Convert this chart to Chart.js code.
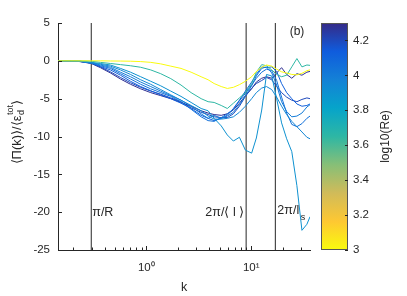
<!DOCTYPE html>
<html>
<head>
<meta charset="UTF-8">
<title>Energy flux spectra</title>
<script src="https://cdn.jsdelivr.net/npm/chart.js@4"></script>
<style>
html, body { margin: 0; padding: 0; background: #fff; }
</style>
</head>
<body>
<canvas id="myChart" width="407" height="296"></canvas>
<script>
// wavenumbers shared by all curves
var kGrid = [0.144, 0.187, 0.233, 0.298, 0.364, 0.454, 0.566, 0.706, 0.882, 1.10, 1.37, 1.71, 2.14, 2.67, 3.33, 3.88, 4.43, 5.18, 5.92, 6.76, 7.72, 8.81, 10.1, 11.2, 12.6, 14.0, 15.7, 17.5, 19.5, 21.8, 24.4, 27.3, 30.5, 34.0, 36.4];

// log10(Re) of each run, used for the line colour
var logRe = [3.0, 3.65, 3.9, 3.95, 4.0, 4.05, 4.12, 4.2, 4.28];

var piRe300 = [0, 0, 0, 0, 0, -0.02, -0.03, -0.05, -0.1, -0.2, -0.4, -0.7, -1.0, -1.5, -2.1, -2.5, -3.0, -3.4, -3.65, -3.5, -3.15, -2.7, -2.1, -1.4, -0.85, -0.55, -0.7, -1.1, -1.45, -1.6, -1.8, -1.85, -1.65, -1.3, -1.2];
var piRe365 = [0, 0, 0, -0.05, -0.2, -0.35, -0.5, -0.65, -0.85, -1.2, -1.7, -2.35, -3.2, -4.2, -5.0, -5.4, -5.5, -5.9, -6.3, -5.6, -4.9, -4.2, -3.0, -1.5, -0.5, -0.65, -1.2, -1.8, -2.1, -1.9, -0.8, 0.3, -0.8, -0.55, -0.6];
var piRe390 = [0, 0, -0.05, -0.2, -0.35, -0.55, -1.0, -1.5, -2.1, -2.7, -3.3, -4.0, -4.7, -5.5, -6.3, -6.6, -7.6, -8.6, -9.8, -10.6, -10.1, -11.8, -12.2, -10.2, -6.5, -1.8, -2.0, -5.0, -8.2, -10.3, -12.0, -16.5, -22.4, -21.6, -20.6];
var piRe395 = [0, 0, -0.05, -0.25, -0.45, -0.7, -1.2, -1.8, -2.5, -3.1, -3.8, -4.5, -5.2, -5.9, -6.6, -7.3, -7.7, -7.7, -7.6, -7.4, -6.8, -6.0, -5.0, -4.2, -3.6, -3.4, -3.8, -4.8, -6.0, -7.1, -8.0, -8.7, -9.4, -10.1, -10.3];
var piRe400 = [0, 0, -0.05, -0.25, -0.55, -0.85, -1.5, -2.1, -2.8, -3.4, -4.0, -4.6, -5.2, -6.0, -7.0, -7.6, -7.2, -7.6, -7.3, -6.8, -5.8, -4.6, -3.3, -2.0, -1.0, -0.8, -1.6, -3.2, -5.4, -6.7, -7.4, -7.3, -6.9, -6.1, -5.8];
var piRe405 = [0, 0, -0.05, -0.3, -0.65, -1.0, -1.7, -2.4, -3.1, -3.7, -4.2, -4.7, -5.4, -6.4, -7.4, -7.9, -8.0, -7.5, -7.0, -6.4, -5.3, -4.3, -3.2, -2.3, -1.5, -1.1, -1.3, -2.6, -4.8, -6.9, -8.4, -8.7, -8.3, -7.6, -7.3];
var piRe412 = [0, 0, -0.08, -0.3, -0.75, -1.2, -1.9, -2.7, -3.4, -3.95, -4.5, -5.0, -5.6, -6.3, -7.2, -7.6, -7.9, -7.6, -7.2, -6.3, -5.2, -4.0, -2.8, -1.8, -0.8, -0.9, -0.8, -1.4, -3.0, -4.2, -5.0, -5.7, -6.0, -5.9, -5.7];
var piRe420 = [0, 0, -0.1, -0.3, -0.8, -1.45, -2.2, -2.9, -3.5, -4.0, -4.4, -4.9, -5.4, -6.2, -6.8, -7.1, -7.4, -7.5, -7.5, -7.0, -6.0, -4.7, -3.6, -3.0, -2.6, -2.2, -2.5, -3.4, -4.2, -4.8, -5.2, -5.4, -5.1, -4.9, -5.0];
var piRe428 = [0, 0, -0.1, -0.35, -0.9, -1.6, -2.4, -3.1, -3.7, -4.2, -4.6, -5.0, -5.5, -6.0, -6.6, -6.9, -7.1, -7.2, -7.0, -6.5, -5.6, -4.6, -3.7, -2.8, -2.3, -2.1, -2.3, -1.6, -0.9, -1.8, -2.3, -1.7, -1.9, -1.5, -1.4];
var piSeries = [piRe300, piRe365, piRe390, piRe395, piRe400, piRe405, piRe412, piRe420, piRe428];

// reference wavenumbers pi/R, 2pi/<l>, 2pi/l_s
var markK = [0.298, 8.95, 17.0];

// axes
var kMin = 0.1435, kMax = 36.4;
var xTickVals = [0.2, 0.3, 0.4, 0.5, 0.6, 0.7, 0.8, 0.9, 1, 2, 3, 4, 5, 6, 7, 8, 9, 10, 20, 30];
var xTickText = { 1: '10\u2070', 10: '10\u00B9' };
var yTickVals = [-25, -20, -15, -10, -5, 0, 5];
var cbMin = 3, cbMax = 4.3;
var cbTickVals = [3, 3.2, 3.4, 3.6, 3.8, 4, 4.2];

var ink = '#262626';
var parulaStops = ['#352A87', '#0F5CDD', '#1481D6', '#06A4CA', '#2EB7A4', '#87BF77', '#D1BB59', '#FEC832', '#F9FB0E'];

function hexRgb(h) {
  return [parseInt(h.substr(1, 2), 16), parseInt(h.substr(3, 2), 16), parseInt(h.substr(5, 2), 16)];
}
function parula(t) {
  t = Math.max(0, Math.min(1, t));
  var n = parulaStops.length - 1;
  var i = Math.min(Math.floor(t * n), n - 1);
  var f = t * n - i;
  var a = hexRgb(parulaStops[i]), b = hexRgb(parulaStops[i + 1]);
  var c = a.map(function(v, j) { return Math.round(v + (b[j] - v) * f); });
  return 'rgb(' + c.join(',') + ')';
}
// colormap is flipped: low Re is yellow
function reColor(r) {
  return parula(1 - (r - cbMin) / (cbMax - cbMin));
}

var datasets = [];
piSeries.forEach(function(vals, s) {
  datasets.push({
    data: kGrid.map(function(k, i) { return { x: k, y: vals[i] }; }),
    borderColor: reColor(logRe[s]),
    borderWidth: 1,
    pointRadius: 0,
    tension: 0,
    fill: false
  });
});
markK.forEach(function(k) {
  datasets.push({
    data: [{ x: k, y: -25 }, { x: k, y: 5 }],
    borderColor: ink,
    borderWidth: 1,
    pointRadius: 0,
    fill: false
  });
});

function hline(ctx, x0, y0, x1, y1) {
  ctx.beginPath(); ctx.moveTo(x0, y0); ctx.lineTo(x1, y1); ctx.stroke();
}

var sans = '"Liberation Sans", Arial, sans-serif';

var decor = {
  id: 'decor',
  afterDraw: function(chart) {
    var ctx = chart.ctx, a = chart.chartArea;
    var xs = chart.scales.x, ys = chart.scales.y, cs = chart.scales.cb;
    ctx.save();
    ctx.strokeStyle = ink;
    ctx.lineWidth = 1;

    // inward tick marks
    xs.ticks.forEach(function(t) {
      var px = Math.round(xs.getPixelForValue(t.value)) + 0.5;
      var len = (t.value === 1 || t.value === 10) ? 4 : 2.5;
      hline(ctx, px, a.bottom, px, a.bottom - len);
    });
    ys.ticks.forEach(function(t) {
      var py = Math.round(ys.getPixelForValue(t.value)) + 0.5;
      hline(ctx, a.left, py, a.left + 4, py);
    });

    // colour bar
    var x0 = a.right + 11, w = 27;
    var g = ctx.createLinearGradient(0, cs.top, 0, cs.bottom);
    parulaStops.forEach(function(c, i) { g.addColorStop(i / (parulaStops.length - 1), c); });
    ctx.fillStyle = g;
    ctx.fillRect(x0, cs.top, w, cs.bottom - cs.top);
    ctx.strokeStyle = '#555';
    ctx.strokeRect(x0 + 0.5, cs.top + 0.5, w - 1, cs.bottom - cs.top - 1);
    ctx.strokeStyle = ink;
    cs.ticks.forEach(function(t) {
      var py = Math.round(cs.getPixelForValue(t.value)) + 0.5;
      hline(ctx, x0 + w, py, x0 + w - 3, py);
    });

    // colour bar title, reads bottom to top
    ctx.fillStyle = ink;
    ctx.font = '12px ' + sans;
    ctx.textBaseline = 'middle';
    ctx.textAlign = 'center';
    ctx.save();
    ctx.translate(386, (cs.top + cs.bottom) / 2);
    ctx.rotate(-Math.PI / 2);
    ctx.fillText('log10(Re)', 0, 0);
    ctx.restore();

    // y axis title <Pi(k)>/<eps_d^tot>
    ctx.save();
    ctx.translate(17, 132);
    ctx.rotate(-Math.PI / 2);
    var big = '13px ' + sans;
    var small = '9px ' + sans;
    var p1 = '\u27E8\u03A0(k)\u27E9/\u27E8\u03B5', p2 = '\u27E9';
    ctx.font = big;
    var w1 = ctx.measureText(p1).width, w3 = ctx.measureText(p2).width;
    ctx.font = small;
    var w2 = Math.max(ctx.measureText('tot').width, ctx.measureText('d').width) + 1;
    var sx = -(w1 + w2 + w3) / 2;
    ctx.textAlign = 'left';
    ctx.font = big;
    ctx.fillText(p1, sx, 0);
    ctx.font = small;
    ctx.fillText('tot', sx + w1 + 0.5, -6);
    ctx.fillText('d', sx + w1 + 0.5, 5);
    ctx.font = big;
    ctx.fillText(p2, sx + w1 + w2, 0);
    ctx.restore();

    // labels for the reference wavenumbers
    var ly = ys.getPixelForValue(-20);
    var lab = '12.5px ' + sans;
    ctx.font = lab;
    ctx.textAlign = 'left';
    ctx.fillText('\u03C0/R', xs.getPixelForValue(markK[0]) + 1, ly);
    ctx.textAlign = 'right';
    ctx.fillText('2\u03C0/\u27E8 l \u27E9', xs.getPixelForValue(markK[1]) - 2, ly);
    ctx.textAlign = 'left';
    var lx = xs.getPixelForValue(markK[2]) + 2;
    ctx.fillText('2\u03C0/l', lx, ly - 2);
    var wl = ctx.measureText('2\u03C0/l').width;
    ctx.font = small;
    ctx.fillText('s', lx + wl + 1.5, ly + 5);

    // panel tag
    ctx.font = '12px ' + sans;
    ctx.textAlign = 'center';
    ctx.fillText('(b)', a.right - 13, a.top + 9);
    ctx.restore();
  }
};

Chart.defaults.font.family = sans;
Chart.defaults.color = ink;

var ctx = document.getElementById('myChart').getContext('2d');
var chart = new Chart(ctx, {
  type: 'line',
  data: { datasets: datasets },
  plugins: [decor],
  options: {
    responsive: false,
    animation: false,
    events: [],
    layout: { padding: { left: 0, right: 37, top: 23, bottom: 0 } },
    plugins: { legend: { display: false }, tooltip: { enabled: false } },
    scales: {
      x: {
        type: 'logarithmic',
        position: 'bottom',
        min: kMin,
        max: kMax,
        afterBuildTicks: function(s) { s.ticks = xTickVals.map(function(v) { return { value: v }; }); },
        afterFit: function(s) { s.height = 46; },
        grid: { display: false, drawTicks: false },
        border: { display: true, color: ink, width: 1 },
        ticks: {
          autoSkip: false, maxRotation: 0, minRotation: 0, padding: 11,
          font: { size: 11.5 }, color: ink,
          callback: function(v) { return xTickText[v] || ''; }
        },
        title: { display: true, text: 'k', color: ink, font: { size: 12.5 }, padding: { top: 1, bottom: 1 } }
      },
      y: {
        min: -25,
        max: 5,
        afterBuildTicks: function(s) { s.ticks = yTickVals.map(function(v) { return { value: v }; }); },
        afterFit: function(s) { s.width = 58; },
        grid: { display: false, drawTicks: false },
        border: { display: true, color: ink, width: 1 },
        ticks: { padding: 8, font: { size: 11.5 }, color: ink }
      },
      cb: {
        position: 'right',
        min: cbMin,
        max: cbMax,
        afterBuildTicks: function(s) { s.ticks = cbTickVals.map(function(v) { return { value: v }; }); },
        afterFit: function(s) { s.width = 60; },
        grid: { display: false, drawTicks: true, tickLength: 38 },
        border: { display: false },
        ticks: {
          padding: 5, font: { size: 11.5 }, color: ink,
          callback: function(v) { return String(+v.toFixed(1)); }
        }
      }
    }
  }
});
</script>
</body>
</html>
